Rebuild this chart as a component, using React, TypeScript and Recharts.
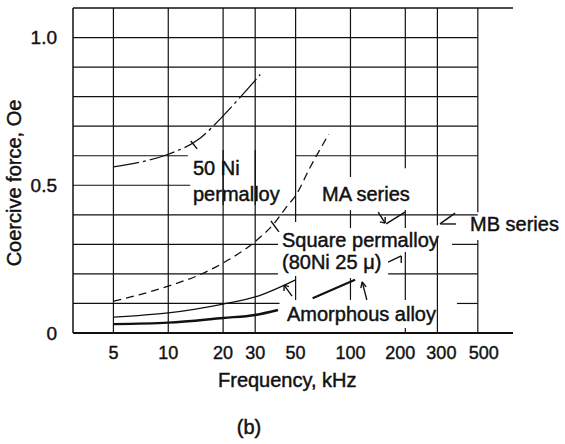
import React from "react";
import { LineChart, Line, XAxis, YAxis, ReferenceLine } from "recharts";

// axis ticks
const freqTicks = [5, 10, 20, 30, 50, 100, 200, 300, 500];
const hcTicks = [0, 0.5, 1.0];

// grid lines, broken where the labels sit: [hc, fromFreq, toFreq]
const hGrid: [number, number, number][] = [
  [1.0, 3, 500], [0.9, 3, 500], [0.8, 3, 500], [0.7, 3, 500],
  [0.6, 3, 12.8], [0.6, 50, 500],
  [0.5, 3, 13.2],
  [0.4, 3, 500],
  [0.3, 3, 40], [0.3, 361, 500],
  [0.2, 3, 40], [0.2, 161, 500],
  [0.1, 3, 40.8], [0.1, 384, 500],
];
// [freq, fromHc, toHc]
const vGrid: [number, number, number][] = [
  [5, 0, 1.1], [10, 0, 1.1],
  [20, 0, 0.619], [20, 0.433, 1.1],
  [30, 0, 0.619], [30, 0.433, 1.1],
  [50, 0.376, 1.1], [50, 0.112, 0.193],
  [100, 0.528, 1.1], [100, 0.355, 0.416], [100, 0.112, 0.186],
  [200, 0.558, 1.1], [200, 0.355, 0.416], [200, 0.112, 0.274], [200, 0, 0.017],
  [300, 0.365, 1.1], [300, 0, 0.321],
  [500, 0.409, 1.1], [500, 0, 0.315],
];

// 50 Ni permalloy (dash-dot)
const ni50Freq = [5, 7, 10, 15, 20, 25, 30, 32];
const ni50Hc = [0.562, 0.578, 0.605, 0.66, 0.735, 0.8, 0.855, 0.875];

// square permalloy (dashed)
const sqFreq = [5, 7, 10, 15, 20, 30, 38, 45, 50, 60, 76];
const sqHc = [0.108, 0.13, 0.159, 0.198, 0.237, 0.31, 0.37, 0.43, 0.465, 0.56, 0.673];

// thin solid curve
const thinFreq = [5, 10, 20, 30, 50];
const thinHc = [0.054, 0.068, 0.098, 0.122, 0.18];

// amorphous alloy (thick)
const amorFreq = [5, 10, 20, 30, 40];
const amorHc = [0.03, 0.035, 0.051, 0.061, 0.078];
const amorHiFreq = [62, 106];
const amorHiHc = [0.118, 0.18];

// MA / MB series
const maFreq = [157, 199];
const maHc = [0.369, 0.409];
const mbFreq = [310, 375];
const mbHc = [0.369, 0.406];

// leader lines and arrows: [f1, hc1, f2, hc2]
const leaders: [number, number, number, number][] = [
  [13.3, 0.65, 14.4, 0.623],
  [36.6, 0.379, 40.5, 0.342],
  [142, 0.409, 155, 0.372],
  [145, 0.376, 155, 0.372],
  [155, 0.393, 155, 0.372],
  [312, 0.369, 380, 0.369],
  [161, 0.24, 190, 0.261],
  [190, 0.261, 190, 0.237],
  [47.8, 0.125, 43.2, 0.162],
  [43.2, 0.142, 43.2, 0.162],
  [46, 0.157, 43.2, 0.162],
  [123, 0.112, 116, 0.173],
  [114, 0.152, 116, 0.173],
  [122, 0.156, 116, 0.173],
];

const toRows = (fs: number[], vs: number[]) => fs.map((f, i) => ({ f, v: vs[i] }));

const font = "'Liberation Sans', Arial, Helvetica, sans-serif";
const ink = "#111";

const Note = ({ x, y, children }: { x: number; y: number; children: React.ReactNode }) => (
  <text x={x} y={y} fontSize={20} fontFamily={font} fill={ink} stroke={ink} strokeWidth={0.45}>
    {children}
  </text>
);

// the scan spreads the crowded right-hand labels a little
const tickShift: Record<number, number> = { 200: -5, 300: 4, 500: 6 };

const FreqTick = (props: any) => {
  const { x, y, payload } = props;
  const shift = tickShift[payload.value] || 0;
  return (
    <text x={x + shift} y={y} dy="0.71em" textAnchor="middle" fontSize={18} fontFamily={font}
      fill={ink} stroke={ink} strokeWidth={0.4}>
      {payload.value}
    </text>
  );
};

const App: React.FC = () => {
  return (
    <div style={{ position: "absolute", left: 0, top: 0, width: 565, height: 444, background: "#fff" }}>
      <LineChart width={565} height={444} margin={{ top: 8, right: 52, bottom: 0, left: 0 }}>
        <XAxis
          dataKey="f"
          type="number"
          scale="log"
          domain={[3, 780]}
          ticks={freqTicks}
          allowDataOverflow
          height={111}
          tickLine={false}
          tickMargin={7}
          axisLine={{ stroke: ink, strokeWidth: 2 }}
          tick={FreqTick}
        />
        <YAxis
          type="number"
          domain={[0, 1.1]}
          ticks={hcTicks}
          allowDataOverflow
          width={73}
          tickLine={false}
          tickMargin={10}
          tickFormatter={(v: number) => (v === 0 ? "0" : v.toFixed(1))}
          axisLine={{ stroke: ink, strokeWidth: 1.5 }}
          tick={{ fill: ink, fontSize: 19, fontFamily: font, stroke: ink, strokeWidth: 0.4 }}
        />
        {hGrid.map((g, i) => (
          <ReferenceLine key={"h" + i} segment={[{ x: g[1], y: g[0] }, { x: g[2], y: g[0] }]}
            stroke={ink} strokeWidth={1.2} />
        ))}
        <ReferenceLine y={1.1} stroke={ink} strokeWidth={1.5} />
        {vGrid.map((g, i) => (
          <ReferenceLine key={"v" + i} segment={[{ x: g[0], y: g[1] }, { x: g[0], y: g[2] }]}
            stroke={ink} strokeWidth={1.2} />
        ))}
        {leaders.map((s, i) => (
          <ReferenceLine
            key={"l" + i}
            segment={[
              { x: s[0], y: s[1] },
              { x: s[2], y: s[3] },
            ]}
            stroke={ink}
            strokeWidth={1.4}
          />
        ))}
        <Line data={toRows(ni50Freq, ni50Hc)} dataKey="v" type="monotone" stroke={ink} strokeWidth={1.3}
          strokeDasharray="26 4 3 4" dot={false} isAnimationActive={false} />
        <Line data={toRows(sqFreq, sqHc)} dataKey="v" type="monotone" stroke={ink} strokeWidth={1.3}
          strokeDasharray="8 5" dot={false} isAnimationActive={false} />
        <Line data={toRows(thinFreq, thinHc)} dataKey="v" type="monotone" stroke={ink} strokeWidth={1.3}
          dot={false} isAnimationActive={false} />
        <Line data={toRows(amorFreq, amorHc)} dataKey="v" type="monotone" stroke={ink} strokeWidth={2.4}
          dot={false} isAnimationActive={false} />
        <Line data={toRows(amorHiFreq, amorHiHc)} dataKey="v" type="linear" stroke={ink} strokeWidth={2.2}
          dot={false} isAnimationActive={false} />
        <Line data={toRows(maFreq, maHc)} dataKey="v" type="linear" stroke={ink} strokeWidth={1.5}
          dot={false} isAnimationActive={false} />
        <Line data={toRows(mbFreq, mbHc)} dataKey="v" type="linear" stroke={ink} strokeWidth={1.5}
          dot={false} isAnimationActive={false} />
      </LineChart>
      <svg width={565} height={444} style={{ position: "absolute", left: 0, top: 0, pointerEvents: "none" }}>
        <Note x={193} y={175}>50 Ni</Note>
        <Note x={193} y={201}>permalloy</Note>
        <Note x={322} y={201}>MA series</Note>
        <Note x={470} y={231}>MB series</Note>
        <Note x={282} y={247}>Square permalloy</Note>
        <Note x={282} y={269}>(80Ni 25 μ)</Note>
        <Note x={287} y={321}>Amorphous alloy</Note>
        <Note x={218} y={387}>Frequency, kHz</Note>
        <text x={21} y={183} fontSize={20} fontFamily={font} fill={ink} stroke={ink} strokeWidth={0.45}
          textAnchor="middle" transform="rotate(-90 21 183)">
          Coercive force, Oe
        </text>
        <text x={249} y={434} fontSize={20} fontFamily={font} fill={ink} stroke={ink} strokeWidth={0.45}
          textAnchor="middle">
          (b)
        </text>
      </svg>
    </div>
  );
};

export default App;
